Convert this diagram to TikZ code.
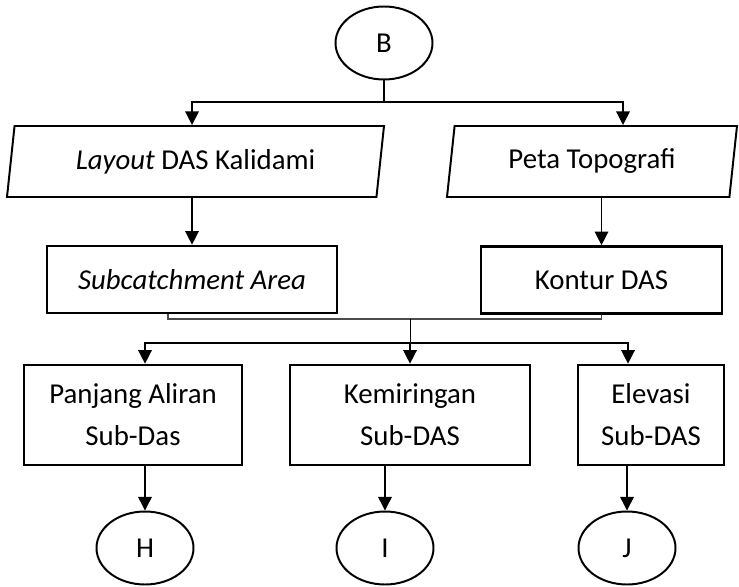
\documentclass[tikz,border=0pt]{standalone}
\usepackage{fontspec}
\setmainfont{Carlito}
\usepackage{tikz}
\usetikzlibrary{positioning,arrows.meta,shapes.geometric}

\begin{document}
\begin{tikzpicture}[
  font=\fontsize{20.5}{30}\selectfont,
  tm/.style={ellipse,draw,line width=1.4pt,minimum width=2.425cm,minimum height=1.825cm,inner sep=0pt},
  io/.style={trapezium,draw,line width=1.4pt,trapezium left angle=76,trapezium right angle=104,
    trapezium stretches body,minimum height=1.775cm,inner sep=2pt},
  bx/.style={rectangle,draw,line width=1.9pt,align=center,inner sep=2pt},
  lk/.style={-{Triangle[length=3.4mm,width=3.4mm]},line width=1pt},
  jn/.style={black!70,line width=0.8pt}]

\useasboundingbox (0,0) rectangle (18.475,14.65);

% --- start and inputs ---
\node[tm] (b) at (9.6,13.575) {B};
\node[io,minimum width=9.425cm] (lay)  at (4.8875,10.6125) {\textit{Layout} DAS Kalidami};
\node[io,minimum width=7.25cm]  (peta) at (14.8,10.6125) {Peta Topografi};
\coordinate (sp) at (9.6,12.1);
\draw[lk] (b) -- (sp) -| ([xshift=-0.0875cm]lay.north);
\draw[lk] (sp) -| ([xshift=0.775cm]peta.north);

% --- processed maps ---
\node[bx,minimum width=7.25cm,minimum height=1.675cm]  (sub) at (4.8,7.6625) {\textit{Subcatchment Area}};
\node[bx,minimum width=6.025cm,minimum height=1.675cm] (kon) at (15.0375,7.65) {Kontur DAS};
\draw[lk] (lay.south -| sub.north) -- (sub);
\draw[lk] (peta.south -| kon.north) -- (kon);

\coordinate (jm) at (10.25,6.675);
\coordinate (br) at (10.25,6.075);
\draw[jn] ([xshift=-0.6cm]sub.south) |- (jm) -| (kon.south);
\draw (jm) -- (br);

% --- parameters per sub-catchment ---
\node[bx,minimum width=5.45cm,minimum height=2.5cm] (pa) at (3.325,4.275) {Panjang Aliran\\Sub-Das};
\node[bx,minimum width=6.0cm,minimum height=2.5cm]  (km) at (10.25,4.275) {Kemiringan\\Sub-DAS};
\node[bx,minimum width=3.65cm,minimum height=2.5cm] (el) at (16.275,4.275) {Elevasi\\Sub-DAS};
\draw[lk] (br) -| ([xshift=0.3cm]pa.north);
\draw[lk] (br) -- (km);
\draw[lk] (br) -| ([xshift=-0.575cm]el.north);

% --- connectors out ---
\node[tm] (h) at (3.625,0.95) {H};
\node[tm] (i) at (9.625,0.95) {I};
\node[tm] (j) at (15.675,0.95) {J};
\draw[lk] (pa.south -| h.north) -- (h);
\draw[lk] (km.south -| i.north) -- (i);
\draw[lk] (el.south -| j.north) -- (j);
\end{tikzpicture}
\end{document}
